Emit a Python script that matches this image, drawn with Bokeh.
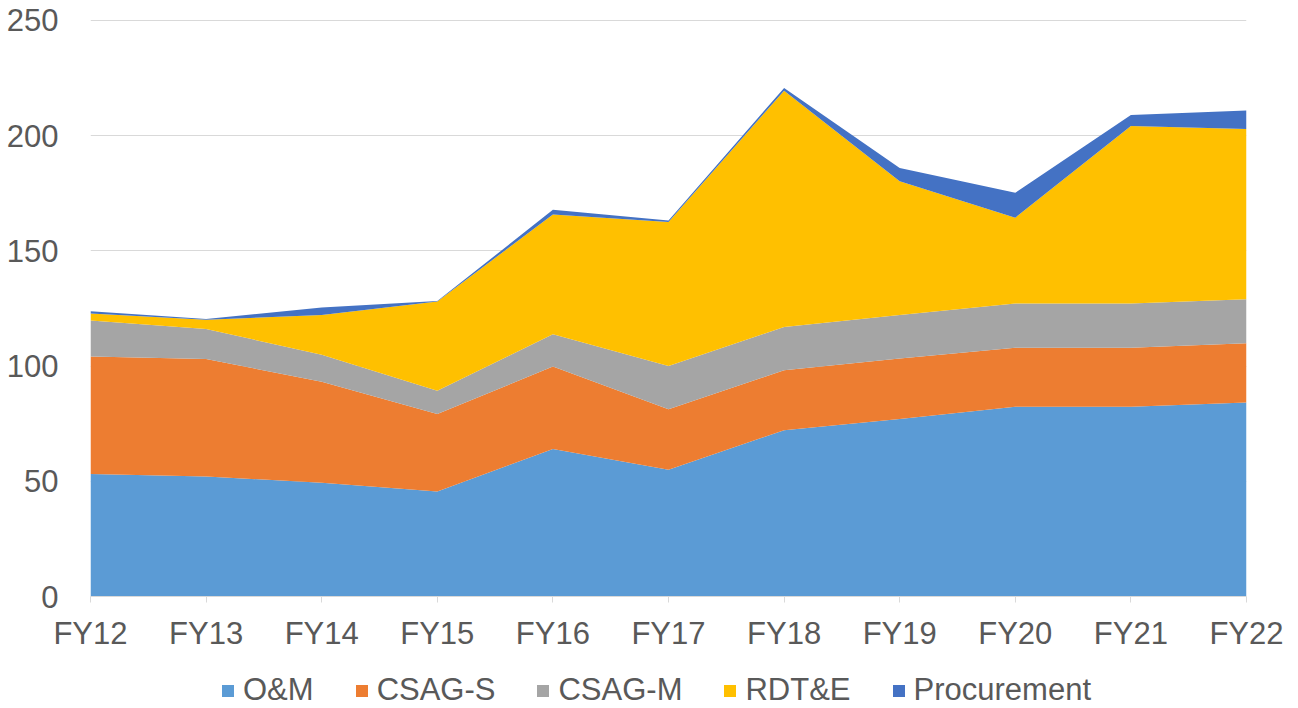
from bokeh.plotting import figure
from bokeh.models import ColumnDataSource, FixedTicker, Legend
from bokeh.layouts import column
from bokeh.embed import file_html
from bokeh.resources import INLINE

years = ["FY12", "FY13", "FY14", "FY15", "FY16", "FY17", "FY18", "FY19", "FY20", "FY21", "FY22"]
om = [53.2, 52.1, 49.4, 45.6, 64.0, 55.0, 72.2, 77.0, 82.3, 82.3, 84.2]
csag_s = [51.0, 51.0, 43.8, 33.6, 35.8, 26.3, 26.0, 26.3, 25.7, 25.7, 25.7]
csag_m = [15.6, 13.0, 11.7, 10.1, 14.0, 18.7, 18.8, 18.9, 19.2, 19.2, 19.1]
rdte = [3.0, 4.0, 17.3, 38.7, 52.0, 62.5, 102.5, 58.0, 37.2, 77.0, 73.9]
procurement = [1.0, 0.3, 3.2, 0.2, 2.0, 0.7, 1.2, 5.8, 10.8, 4.8, 8.0]

series = ["O&M", "CSAG-S", "CSAG-M", "RDT&E", "Procurement"]
colors = ["#5B9BD5", "#ED7D31", "#A5A5A5", "#FFC000", "#4472C4"]

xs = list(range(len(years)))
source = ColumnDataSource(dict(x=xs, **{"O&M": om, "CSAG-S": csag_s, "CSAG-M": csag_m,
                                       "RDT&E": rdte, "Procurement": procurement}))

FONT = "Liberation Sans"
TXT = "#595959"

p = figure(width=1298, height=653, output_backend="svg", toolbar_location=None,
           x_range=(0, len(years) - 1), y_range=(0, 250.4),
           min_border_left=90, min_border_right=52, min_border_top=19, min_border_bottom=57)
p.outline_line_color = None

renderers = p.varea_stack(stackers=series, x="x", color=colors, source=source)

p.xgrid.visible = False
p.ygrid.grid_line_color = "#D9D9D9"
p.ygrid.grid_line_width = 1
p.yaxis.ticker = FixedTicker(ticks=[0, 50, 100, 150, 200, 250])
p.xaxis.ticker = FixedTicker(ticks=xs)
p.xaxis.major_label_overrides = {i: y for i, y in enumerate(years)}

for ax in (p.xaxis[0], p.yaxis[0]):
    ax.major_label_text_font = FONT
    ax.major_label_text_font_size = "31px"
    ax.major_label_text_color = TXT
    ax.minor_tick_line_color = None

p.yaxis.axis_line_color = None
p.yaxis.major_tick_line_color = None
p.yaxis.major_label_standoff = 26

p.xaxis.axis_line_color = "#D9D9D9"
p.xaxis.major_tick_line_color = "#D9D9D9"
p.xaxis.major_tick_in = 0
p.xaxis.major_tick_out = 6
p.xaxis.major_label_standoff = 13

# legend strip below the chart (zero-height swatch renderers carry the colours)
p2 = figure(width=1298, height=55, output_backend="svg", toolbar_location=None,
            x_range=(0, 1), y_range=(0, 1), x_axis_location=None, y_axis_location=None,
            min_border=0)
p2.outline_line_color = None
p2.grid.visible = False
swatches = [p2.varea(x=[0, 0], y1=[0, 0], y2=[0, 0], color=c) for c in colors]

legend = Legend(items=[(s, [r]) for s, r in zip(series, swatches)],
                orientation="horizontal", location=(130, 0),
                label_text_font=FONT, label_text_font_size="31px", label_text_color=TXT,
                glyph_width=15, glyph_height=15, label_standoff=8, spacing=40,
                border_line_color=None, background_fill_alpha=0, padding=0, margin=0)
p2.add_layout(legend, "center")

layout = column(p, p2, spacing=0)
open("out.html", "w").write(file_html(layout, INLINE))
